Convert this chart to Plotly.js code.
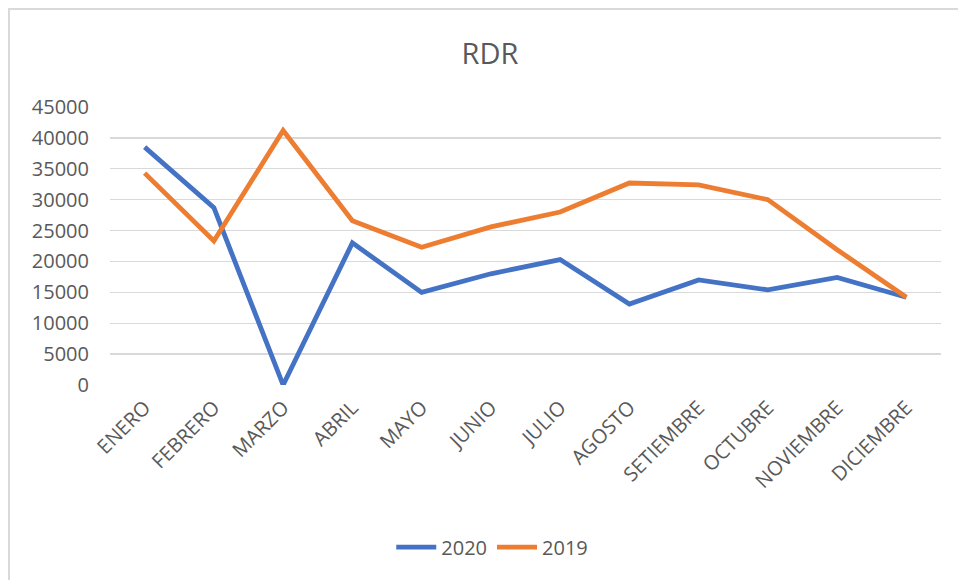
<!DOCTYPE html>
<html>
<head>
<meta charset="utf-8">
<script src="https://cdn.plot.ly/plotly-3.0.1.min.js"></script>
<style>
  html, body { margin: 0; padding: 0; background: #ffffff; }
  #wrap { position: relative; width: 958px; height: 580px; overflow: hidden; }
  #chart { width: 958px; height: 580px; }
  #frame { position: absolute; left: 8px; top: 8px; width: 1000px; height: 1000px;
           border-top: 2px solid #d9d9d9; border-left: 2px solid #d9d9d9; pointer-events: none; }
</style>
</head>
<body>
<div id="wrap">
  <div id="chart"></div>
  <div id="frame"></div>
</div>
<script>
const months = ["ENERO", "FEBRERO", "MARZO", "ABRIL", "MAYO", "JUNIO", "JULIO",
                "AGOSTO", "SETIEMBRE", "OCTUBRE", "NOVIEMBRE", "DICIEMBRE"];
const values2020 = [38500, 28700, 0, 23000, 15000, 18000, 20300, 13100, 17000, 15400, 17400, 14200];
const values2019 = [34300, 23300, 41200, 26600, 22300, 25600, 28000, 32700, 32400, 30000, 21900, 14200];
const yTicks = [0, 5000, 10000, 15000, 20000, 25000, 30000, 35000, 40000, 45000];

const txt = "#595959";
const font = "Open Sans, DejaVu Sans, sans-serif";

const traces = [
  { type: "scatter", mode: "lines", name: "2020", x: months, y: values2020,
    line: { color: "#4472C4", width: 4.8 } },
  { type: "scatter", mode: "lines", name: "2019", x: months, y: values2019,
    line: { color: "#ED7D31", width: 4.8 } }
];

const layout = {
  width: 958, height: 580,
  paper_bgcolor: "#ffffff", plot_bgcolor: "#ffffff",
  margin: { l: 110, r: 17, t: 107, b: 195 },
  font: { family: font, color: txt },
  title: { text: "RDR", font: { family: font, size: 29, color: txt },
           x: 0.5115, xref: "container", xanchor: "center",
           y: 0.907, yref: "container", yanchor: "middle" },
  showlegend: true,
  legend: { orientation: "h", x: 0.46, xanchor: "center", y: -0.583, yanchor: "middle",
            font: { family: font, size: 20, color: txt }, itemwidth: 40 },
  xaxis: { type: "category", range: [-0.5, 11.5], tickangle: -45,
           tickfont: { family: font, size: 20, color: txt },
           showgrid: false, showline: false, zeroline: false, ticks: "", ticklabelstandoff: 6 },
  yaxis: { range: [0, 45000], tickvals: yTicks, ticktext: yTicks.map(String),
           tickfont: { family: font, size: 20, color: txt },
           showgrid: true, gridcolor: "#d9d9d9", gridwidth: 1.3,
           zeroline: false, showline: false, ticks: "", ticklabelstandoff: 20 }
};

Plotly.newPlot("chart", traces, layout, { displayModeBar: false, staticPlot: true });
</script>
</body>
</html>
